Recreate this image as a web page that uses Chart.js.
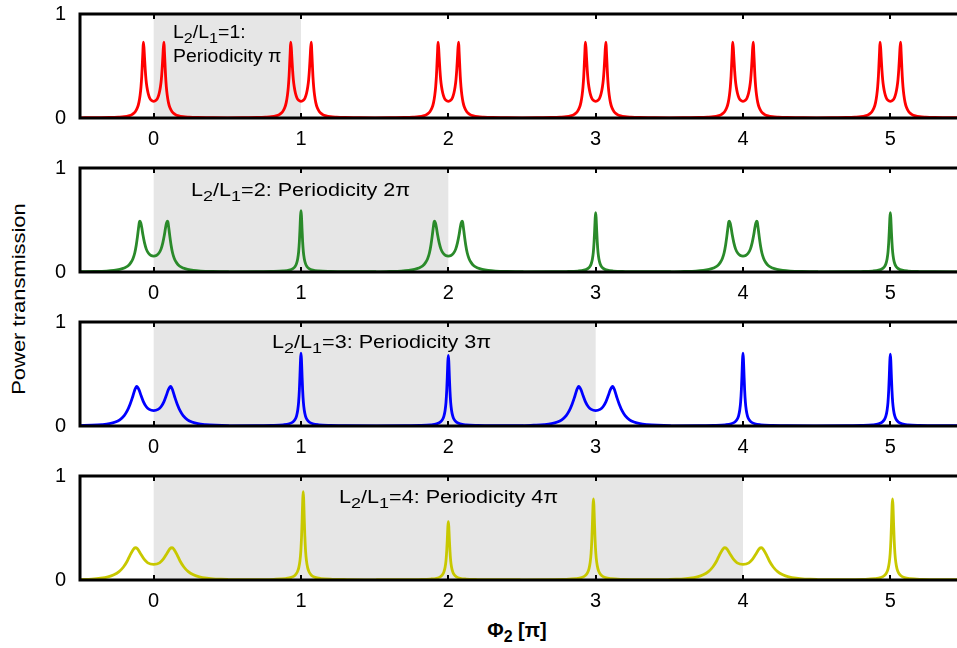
<!DOCTYPE html>
<html>
<head>
<meta charset="utf-8">
<script src="https://cdn.jsdelivr.net/npm/chart.js@4.4.0/dist/chart.umd.min.js"></script>
<style>
  html, body { margin: 0; padding: 0; background: #fff; overflow: hidden; }
  body { width: 957px; height: 648px; position: relative; font-family: "Liberation Sans", Arial, sans-serif; }
  canvas.panel { position: absolute; left: 0; }
  #ytitle { position: absolute; left: 19px; top: 299px; transform: translate(-50%, -50%) rotate(-90deg) scaleX(1.22); font-size: 18px; white-space: nowrap; }
  #xtitle { position: absolute; left: 517px; top: 630px; transform: translate(-50%, -50%); font-size: 20px; font-weight: bold; white-space: nowrap; }
  #xtitle sub { font-size: 16px; vertical-align: -5px; line-height: 0; }
</style>
</head>
<body>
<div id="ytitle">Power transmission</div>
<div id="xtitle">Φ<sub>2</sub> [π]</div>
<canvas id="p0" class="panel" width="980" height="156" style="top:2px"></canvas>
<canvas id="p1" class="panel" width="980" height="156" style="top:156px"></canvas>
<canvas id="p2" class="panel" width="980" height="156" style="top:310px"></canvas>
<canvas id="p3" class="panel" width="980" height="156" style="top:464px"></canvas>
<script>
// axis ticks (phase in units of pi)
const xTicks = [0, 1, 2, 3, 4, 5];
const yTicks = [0, 1];
const ratios = [1, 2, 3, 4];
const periodicity = ['π', '2π', '3π', '4π'];

// line shapes: [offset from centre, transmission], left half only
const redDoublet = [[-0.5, 0.002], [-0.4, 0.003], [-0.3, 0.005], [-0.24, 0.008], [-0.2, 0.012], [-0.17, 0.02],
  [-0.145, 0.035], [-0.125, 0.06], [-0.11, 0.1], [-0.1, 0.15], [-0.092, 0.22], [-0.086, 0.3], [-0.081, 0.4],
  [-0.077, 0.52], [-0.073, 0.64], [-0.07, 0.73], [-0.066, 0.68], [-0.062, 0.58], [-0.057, 0.46], [-0.052, 0.37],
  [-0.046, 0.3], [-0.038, 0.24], [-0.028, 0.195], [-0.016, 0.17], [0, 0.16]];
const greenDoublet = [[-0.5, 0.003], [-0.4, 0.005], [-0.32, 0.009], [-0.27, 0.015], [-0.23, 0.025], [-0.2, 0.038],
  [-0.175, 0.058], [-0.155, 0.09], [-0.14, 0.13], [-0.128, 0.185], [-0.118, 0.26], [-0.11, 0.34], [-0.103, 0.42],
  [-0.097, 0.48], [-0.093, 0.49], [-0.087, 0.47], [-0.08, 0.42], [-0.072, 0.35], [-0.062, 0.28], [-0.05, 0.22],
  [-0.035, 0.18], [-0.018, 0.158], [0, 0.152]];
const blueDoublet = [[-0.5, 0.004], [-0.42, 0.007], [-0.35, 0.013], [-0.3, 0.022], [-0.26, 0.038], [-0.23, 0.06],
  [-0.2, 0.1], [-0.18, 0.145], [-0.16, 0.21], [-0.145, 0.27], [-0.13, 0.34], [-0.115, 0.38], [-0.1, 0.35],
  [-0.085, 0.29], [-0.07, 0.235], [-0.05, 0.185], [-0.03, 0.16], [0, 0.148]];
const yellowDoublet = [[-0.5, 0.005], [-0.42, 0.009], [-0.36, 0.017], [-0.31, 0.03], [-0.27, 0.05], [-0.235, 0.08],
  [-0.205, 0.125], [-0.18, 0.18], [-0.16, 0.24], [-0.14, 0.29], [-0.125, 0.31], [-0.11, 0.3], [-0.09, 0.255],
  [-0.065, 0.2], [-0.04, 0.165], [0, 0.15]];
// single sharp peak, relative to its own height
const narrowPeak = [[-0.5, 0.003], [-0.3, 0.005], [-0.2, 0.008], [-0.12, 0.016], [-0.08, 0.03], [-0.055, 0.055],
  [-0.04, 0.09], [-0.03, 0.14], [-0.022, 0.22], [-0.016, 0.33], [-0.011, 0.5], [-0.007, 0.7], [-0.003, 0.92], [0, 1]];

// where the peaks sit in each panel
const redDoubletAt = [0, 1, 2, 3, 4, 5];
const greenDoubletAt = [0, 2, 4];
const greenSingleAt = [1, 3, 5];
const greenSinglePeak = [0.59, 0.57, 0.57];
const blueDoubletAt = [0, 3];
const blueSingleAt = [1, 2, 4, 5];
const blueSinglePeak = [0.70, 0.68, 0.70, 0.69];
const yellowDoubletAt = [0, 4];
const yellowSingleAt = [1.015, 2, 2.985, 5.015];
const yellowSinglePeak = [0.85, 0.56, 0.78, 0.78];

function mirror(half) {
  const right = half.slice(0, -1).reverse().map(p => [-p[0], p[1]]);
  return half.concat(right);
}

function buildSeries(doubletHalf, doubletAt, singleAt, singlePeak) {
  const doublet = mirror(doubletHalf);
  const single = mirror(narrowPeak);
  let pts = [];
  doubletAt.forEach(c => {
    doublet.forEach(p => pts.push({ x: c + p[0], y: p[1] }));
  });
  singleAt.forEach((c, i) => {
    single.forEach(p => pts.push({ x: c + p[0], y: p[1] * singlePeak[i] }));
  });
  pts.sort((a, b) => a.x - b.x);
  return pts;
}

const series = [
  buildSeries(redDoublet, redDoubletAt, [], []),
  buildSeries(greenDoublet, greenDoubletAt, greenSingleAt, greenSinglePeak),
  buildSeries(blueDoublet, blueDoubletAt, blueSingleAt, blueSinglePeak),
  buildSeries(yellowDoublet, yellowDoubletAt, yellowSingleAt, yellowSinglePeak)
];

const colors = ['#ff0000', '#2a8a2a', '#0000ff', '#c8c800'];
const notePos = [[173, 24.3], [191, 27.7], [272, 25.7], [339, 26.7]];
const noteStretch = [1.08, 1.2, 1.2, 1.2];
const FONT = '"Liberation Sans", Arial, sans-serif';

// text drawn with a slight horizontal stretch, like the original figure
function drawNote(ctx, x, y, parts, size, stretch) {
  ctx.save();
  ctx.translate(x, y);
  ctx.scale(stretch, 1);
  let cx = 0;
  parts.forEach(([t, sub]) => {
    ctx.font = (sub ? Math.round(size * 0.85) : size) + 'px ' + FONT;
    ctx.fillText(t, cx, sub ? 5 : 0);
    cx += ctx.measureText(t).width;
  });
  ctx.restore();
}

const panelPlugin = {
  id: 'panel',
  beforeDatasetsDraw(chart, args, opts) {
    const { ctx, chartArea: a, scales: { x } } = chart;
    ctx.save();
    ctx.fillStyle = '#e6e6e6';
    const x0 = x.getPixelForValue(0), x1 = x.getPixelForValue(opts.ratio);
    ctx.fillRect(x0, a.top, x1 - x0, a.bottom - a.top);
    ctx.restore();
  },
  afterDatasetsDraw(chart, args, opts) {
    const { ctx, chartArea: a, scales: { x } } = chart;
    ctx.save();
    ctx.fillStyle = '#000';
    ctx.textBaseline = 'alphabetic';
    const [nx, ny] = opts.note;
    const head = [['L'], ['2', true], ['/L'], ['1', true], ['=' + opts.ratio + ':']];
    if (opts.ratio === 1) {
      drawNote(ctx, nx, a.top + ny, head, 18, opts.stretch);
      drawNote(ctx, nx, a.top + ny + 24, [['Periodicity ' + opts.period]], 18, opts.stretch);
    } else {
      drawNote(ctx, nx, a.top + ny, head.concat([[' Periodicity ' + opts.period]]), 18, opts.stretch);
    }
    // frame with inward ticks
    ctx.strokeStyle = '#000';
    ctx.lineWidth = 3;
    ctx.beginPath();
    ctx.moveTo(a.right + 5, a.top);
    ctx.lineTo(a.left, a.top);
    ctx.lineTo(a.left, a.bottom);
    ctx.lineTo(a.right + 5, a.bottom);
    ctx.stroke();
    ctx.lineWidth = 2;
    ctx.beginPath();
    xTicks.forEach(v => {
      const px = Math.round(x.getPixelForValue(v));
      ctx.moveTo(px, a.top);
      ctx.lineTo(px, a.top + 5);
      ctx.moveTo(px, a.bottom);
      ctx.lineTo(px, a.bottom - 5);
    });
    ctx.stroke();
    ctx.restore();
  }
};

series.forEach((data, i) => {
  const ctx = document.getElementById('p' + i).getContext('2d');
  new Chart(ctx, {
    type: 'line',
    data: {
      datasets: [{
        data: data,
        borderColor: colors[i],
        borderWidth: 2.8,
        pointRadius: 0,
        fill: false,
        cubicInterpolationMode: 'monotone'
      }]
    },
    options: {
      responsive: false,
      animation: false,
      layout: { padding: { top: 12, right: 16, left: 0, bottom: 0 } },
      plugins: {
        legend: { display: false },
        tooltip: { enabled: false },
        panel: { ratio: ratios[i], period: periodicity[i], note: notePos[i], stretch: noteStretch[i] }
      },
      scales: {
        x: {
          type: 'linear',
          min: -0.5,
          max: 5.5,
          afterBuildTicks: s => { s.ticks = xTicks.map(v => ({ value: v })); },
          afterFit: s => { s.height = 40; s.paddingLeft = 0; s.paddingRight = 0; },
          grid: { display: false, drawTicks: false },
          border: { display: false },
          ticks: { color: '#000', font: { family: FONT, size: 20 }, padding: 9, maxRotation: 0, autoSkip: false }
        },
        y: {
          min: 0,
          max: 1,
          afterBuildTicks: s => { s.ticks = yTicks.map(v => ({ value: v })); },
          afterFit: s => { s.width = 80; s.paddingTop = 0; s.paddingBottom = 0; },
          grid: { display: false, drawTicks: false },
          border: { display: false },
          ticks: { color: '#000', font: { family: FONT, size: 20 }, padding: 14 }
        }
      }
    },
    plugins: [panelPlugin]
  });
});
</script>
</body>
</html>
